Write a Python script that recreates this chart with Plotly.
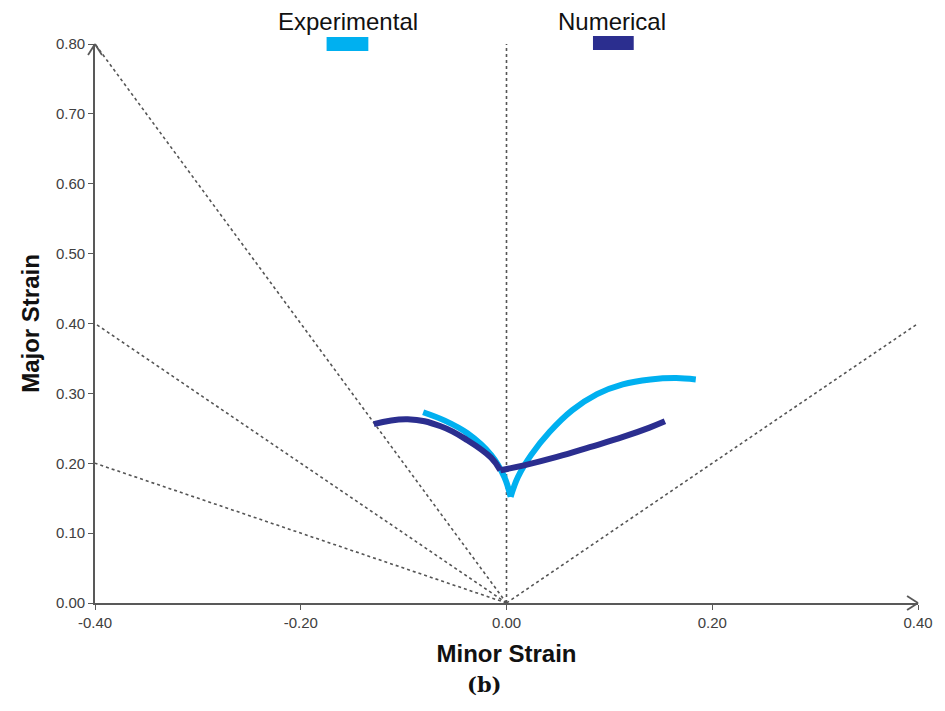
import plotly.graph_objects as go

# Forming limit diagram: major vs. minor strain
x_ticks = [-0.4, -0.2, 0.0, 0.2, 0.4]
y_ticks = [0.0, 0.1, 0.2, 0.3, 0.4, 0.5, 0.6, 0.7, 0.8]

# Experimental limit curve (left branch, right branch meeting at the plane-strain cusp)
exp_left_minor = [-0.081, -0.060, -0.038, -0.015, -0.002, 0.004]
exp_left_major = [0.273, 0.261, 0.243, 0.212, 0.180, 0.152]
exp_right_minor = [0.004, 0.011, 0.024, 0.042, 0.064, 0.088, 0.113, 0.140, 0.165, 0.184]
exp_right_major = [0.152, 0.180, 0.212, 0.245, 0.276, 0.299, 0.313, 0.320, 0.322, 0.320]

# Numerical limit curve
num_left_minor = [-0.129, -0.096, -0.064, -0.038, -0.015, -0.006]
num_left_major = [0.256, 0.263, 0.253, 0.233, 0.208, 0.190]
num_right_minor = [-0.006, 0.017, 0.049, 0.081, 0.114, 0.139, 0.154]
num_right_major = [0.190, 0.197, 0.209, 0.223, 0.238, 0.251, 0.260]

# Strain-path reference lines from the origin
path_end_minor = [-0.4, -0.4, -0.4, 0.0, 0.4]
path_end_major = [0.8, 0.4, 0.2, 0.8, 0.4]

EXP_COLOR = "#00B0F0"
NUM_COLOR = "#2B2E8F"
AXIS_COLOR = "#595959"
TICK_COLOR = "#404040"

PLOT_W, PLOT_H = 828, 559  # plot-area size in px (945x711 minus margins)

fig = go.Figure()

for ex, ey in zip(path_end_minor, path_end_major):
    fig.add_trace(go.Scatter(
        x=[0.0, ex], y=[0.0, ey], mode="lines",
        line=dict(color="#555555", width=1.6, dash="3px,3px"),
        hoverinfo="skip", showlegend=False))

for xs, ys in [(exp_left_minor, exp_left_major), (exp_right_minor, exp_right_major)]:
    fig.add_trace(go.Scatter(
        x=xs, y=ys, mode="lines", name="Experimental",
        line=dict(color=EXP_COLOR, width=6, shape="spline", smoothing=1.0),
        showlegend=False))

for xs, ys in [(num_left_minor, num_left_major), (num_right_minor, num_right_major)]:
    fig.add_trace(go.Scatter(
        x=xs, y=ys, mode="lines", name="Numerical",
        line=dict(color=NUM_COLOR, width=6, shape="spline", smoothing=1.2),
        showlegend=False))


def px_x(p):
    return p / PLOT_W


def px_y(p):
    return p / PLOT_H


shapes = []
# open arrowheads at the ends of both axes
for dx in (-7, 7):
    shapes.append(dict(type="line", xref="paper", yref="paper",
                       x0=px_x(dx), y0=1 - px_y(11), x1=0, y1=1,
                       layer="above", line=dict(color=AXIS_COLOR, width=1.8)))
for dy in (-7, 7):
    shapes.append(dict(type="line", xref="paper", yref="paper",
                       x0=1 - px_x(11), y0=px_y(dy), x1=1, y1=0,
                       layer="above", line=dict(color=AXIS_COLOR, width=1.8)))

# legend swatches
shapes.append(dict(type="rect", xref="paper", yref="paper",
                   x0=(328 - 95) / PLOT_W, x1=(370 - 95) / PLOT_W,
                   y0=(603 - 51) / PLOT_H, y1=(603 - 37) / PLOT_H,
                   fillcolor=EXP_COLOR, line=dict(width=0)))
shapes.append(dict(type="rect", xref="paper", yref="paper",
                   x0=(596 - 95) / PLOT_W, x1=(637 - 95) / PLOT_W,
                   y0=(603 - 50) / PLOT_H, y1=(603 - 36) / PLOT_H,
                   fillcolor=NUM_COLOR, line=dict(width=0)))

annotations = [
    dict(text="Experimental", xref="paper", yref="paper",
         x=(350 - 95) / PLOT_W, y=(603 - 21) / PLOT_H, showarrow=False,
         xanchor="center", yanchor="middle",
         font=dict(family="Liberation Sans, Arial", size=24, color="#111111")),
    dict(text="Numerical", xref="paper", yref="paper",
         x=(615 - 95) / PLOT_W, y=(603 - 21) / PLOT_H, showarrow=False,
         xanchor="center", yanchor="middle",
         font=dict(family="Liberation Sans, Arial", size=24, color="#111111")),
    dict(text="<b>(b)</b>", xref="paper", yref="paper",
         x=(487 - 95) / PLOT_W, y=(603 - 684) / PLOT_H, showarrow=False,
         xanchor="center", yanchor="middle",
         font=dict(family="DejaVu Serif, Liberation Serif", size=21, color="#111111")),
]

fig.update_layout(
    width=945, height=711,
    margin=dict(l=95, r=22, t=44, b=108),
    paper_bgcolor="white", plot_bgcolor="white",
    shapes=shapes, annotations=annotations,
    showlegend=False,
    xaxis=dict(
        range=[-0.4, 0.4], tickvals=x_ticks,
        ticktext=[f"{v:.2f}" for v in x_ticks],
        showgrid=False, zeroline=False,
        showline=True, linecolor=AXIS_COLOR, linewidth=1.6,
        ticks="outside", ticklen=5, tickcolor=AXIS_COLOR, tickwidth=1.3,
        tickfont=dict(family="Liberation Sans, Arial", size=15, color=TICK_COLOR),
        title=dict(text="<b>Minor Strain</b>", standoff=15,
                   font=dict(family="Liberation Sans, Arial", size=24, color="#111111")),
    ),
    yaxis=dict(
        range=[0, 0.8], tickvals=y_ticks,
        ticktext=[f"{v:.2f}" for v in y_ticks],
        showgrid=False, zeroline=False,
        showline=True, linecolor=AXIS_COLOR, linewidth=1.6,
        ticks="outside", ticklen=5, tickcolor=AXIS_COLOR, tickwidth=1.3,
        tickfont=dict(family="Liberation Sans, Arial", size=15, color=TICK_COLOR),
        title=dict(text="<b>Major Strain</b>", standoff=10,
                   font=dict(family="Liberation Sans, Arial", size=24, color="#111111")),
    ),
)

fig.write_html("out.html")
